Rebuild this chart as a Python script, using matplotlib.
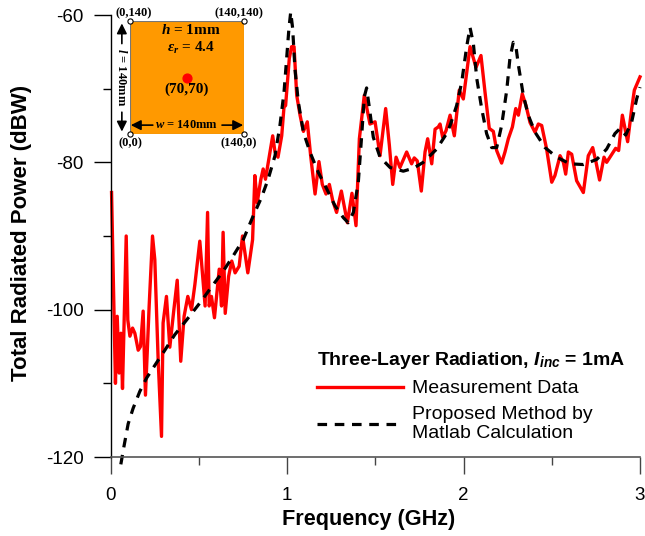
import matplotlib
matplotlib.use('Agg')
import matplotlib.pyplot as plt
from matplotlib.patches import Rectangle

plt.rcParams['font.family'] = ['Liberation Sans', 'DejaVu Sans']
plt.rcParams['axes.unicode_minus'] = False
plt.rcParams['mathtext.fontset'] = 'custom'
plt.rcParams['mathtext.rm'] = 'Liberation Sans:bold'
plt.rcParams['mathtext.bf'] = 'Liberation Sans:bold'
plt.rcParams['mathtext.bfit'] = 'Liberation Sans:italic:bold'
plt.rcParams['mathtext.it'] = 'Liberation Serif:italic:bold'

meas_freq = [.006, .028, .038, .049, .059, .068, .089, .098, .11, .125, .138, .157, .17, .185, .198,
             .219, .238, .251, .27, .289, .298, .317, .336, .359, .378, .398, .417, .438, .459, .478,
             .506, .536, .55, .559, .572, .589, .616, .629, .638, .65, .669, .687, .706, .729, .748,
             .778, .805, .818, .831, .852, .865, .878, .904, .919, .932, .949, .97, .983, .992, 1.013,
             1.026, 1.04, 1.055, 1.074, 1.093, 1.115, 1.134, 1.159, 1.181, 1.2, 1.221, 1.24, 1.259, 1.281, 1.308,
             1.342, 1.368, 1.391, 1.41, 1.438, 1.47, 1.499, 1.527, 1.559, 1.58, 1.599, 1.618, 1.64, 1.678,
             1.706, 1.721, 1.738, 1.761, 1.782, 1.797, 1.82, 1.839, 1.857, 1.867, 1.882, 1.901, 1.924, 1.948, 1.976,
             1.999, 2.037, 2.071, 2.099, 2.122, 2.146, 2.169, 2.188, 2.216, 2.235, 2.254, 2.277, 2.296, 2.311, 2.333,
             2.354, 2.377, 2.405, 2.424, 2.443, 2.471, 2.5, 2.518, 2.547, 2.566, 2.579, 2.594, 2.613, 2.641, 2.679,
             2.707, 2.732, 2.751, 2.771, 2.796, 2.811, 2.849, 2.862, 2.879, 2.9, 2.93, 2.953, 2.968, 3.0]
meas_db = [-84.1, -110, -100.9, -108.6, -103.2, -110.7, -90, -101.4, -103.6, -102.5, -103.2, -105.5, -105, -100.2, -111.6,
           -99.5, -90, -93.2, -106.8, -117.2, -101.8, -98.2, -105.1, -100, -96, -107, -100.9, -98.2, -100, -96.6,
           -90.7, -99.5, -86.8, -99.5, -98.2, -101.1, -94.5, -99.5, -89.5, -100.5, -95.5, -93.4, -95, -94.1, -90,
           -95, -90.5, -81.8, -85.5, -82.3, -80.9, -82.3, -78.6, -76.4, -78.6, -79.3, -76.4, -72.5, -72.3, -65.9,
           -64.3, -64.3, -70.9, -73.6, -75.8, -74.5, -79.1, -84.3, -79.9, -83, -84.3, -83, -85.2, -86.8, -83.9,
           -88.2, -84.2, -88.6, -76.8, -70.9, -74.8, -74.5, -79.1, -72.7, -77.7, -83, -79.3, -80.7, -78.6,
           -80.2, -79.4, -79.8, -83.9, -78.6, -76.8, -80.2, -75.5, -75.2, -74.8, -76.6, -75.7, -73.6, -76.4, -70.2,
           -71.4, -64.3, -67.1, -65.5, -70.5, -75.4, -75.8, -78.4, -80.1, -78.6, -76.8, -75.2, -72.7, -73.6, -70.7,
           -72.3, -74.6, -75.9, -74.8, -75, -78.2, -82.7, -81.8, -79.1, -80, -81.6, -78.6, -78.9, -82.5, -84.1,
           -79.1, -78, -80, -82.4, -79.3, -80, -78.6, -78.1, -78.4, -73.6, -77.2, -72.7, -70.2, -68.4]

# calculated curve
calc_freq = [.0585, .076, .1, .128, .166, .204, .261, .308, .364, .431, .506, .582, .638, .695, .752,
             .808, .855, .893, .932, .96, .983, .998, 1.011, 1.021, 1.032, 1.045, 1.064, 1.093, 1.13, 1.178,
             1.225, 1.272, 1.319, 1.347, 1.376, 1.404, 1.423, 1.438, 1.451, 1.465, 1.489, 1.527, 1.584, 1.659, 1.716,
             1.772, 1.848, 1.904, 1.924, 1.961, 1.99, 2.018, 2.037, 2.056, 2.075, 2.103, 2.131, 2.16, 2.188, 2.216,
             2.245, 2.263, 2.282, 2.296, 2.311, 2.339, 2.367, 2.405, 2.462, 2.528, 2.603, 2.679, 2.755, 2.811, 2.858,
             2.887, 2.919, 2.953, 2.981, 3.0]
calc_db = [-121, -118.6, -115.5, -113.4, -111.1, -109.3, -107.2, -105.5, -103.4, -101.4, -99.1, -96.6, -94.8, -92.7, -90.5,
           -87.3, -84.8, -82.3, -79.1, -75, -70.5, -65.9, -61.8, -59.6, -61.8, -67.3, -71.8, -75.9, -78.6, -81.4,
           -83.6, -85.9, -87.5, -88.2, -86.8, -82.7, -76.4, -71.1, -69.9, -72.3, -76.6, -79.3, -80.7, -81.2, -80.8,
           -80, -78.2, -76.1, -75, -72.3, -69.1, -64.3, -61.7, -63.9, -68.6, -72.7, -76.1, -78, -78, -75,
           -70.2, -65.9, -63.7, -64.1, -66.8, -70.9, -73.6, -75.9, -78, -79.3, -80.2, -80.3, -79.6, -78.2, -76.1,
           -75.4, -76.3, -74.5, -71.4, -69.8]

x_ticks = [0, 1, 2, 3]
y_ticks = [-120, -100, -80, -60]
corners = [(0, 0), (140, 0), (0, 140), (140, 140)]
corner_labels = ['(0,0)', '(140,0)', '(0,140)', '(140,140)']
feed = (70, 70)

W, H = 645, 536
fig = plt.figure(figsize=(W / 100, H / 100), dpi=100)
ax = fig.add_axes([110.5 / W, 1 - 457 / H, 529.5 / W, 442 / H])

ax.plot(meas_freq, meas_db, color='#ff0000', lw=2.4, solid_joinstyle='round', label='Measurement Data', clip_on=False)
ax.plot(calc_freq, calc_db, color='black', lw=2.3, dashes=(3.0, 2.4), label='Proposed Method by\nMatlab Calculation',
        clip_on=False)

ax.set_xlim(0, 3)
ax.set_ylim(-120, -60)
ax.set_xticks(x_ticks)
ax.set_xticks([.5, 1.5, 2.5], minor=True)
ax.set_yticks(y_ticks)
ax.set_yticks([-110, -90, -70], minor=True)
ax.tick_params(which='major', length=12.3, width=1.0, labelsize=13.5)
ax.tick_params(which='minor', length=6, width=1.0)
ax.tick_params(axis='x', which='major', pad=9)
ax.tick_params(axis='y', which='major', pad=7)
ax.tick_params(axis='x', which='both', color='#444444')
ax.spines['top'].set_visible(False)
ax.spines['right'].set_visible(False)
ax.spines['left'].set_linewidth(1.0)
ax.spines['bottom'].set_linewidth(1.2)
ax.spines['bottom'].set_color('#555555')
ax.set_xlabel('Frequency (GHz)', fontsize=15.6, fontweight='bold')
ax.set_ylabel('Total Radiated Power (dBW)', fontsize=16, fontweight='bold')
ax.xaxis.set_label_coords(.488, -.118)
ax.yaxis.set_label_coords(-.149, .508)

leg = ax.legend(loc='lower left', bbox_to_anchor=(.39, .035), frameon=False, fontsize=14,
                handlelength=4.4, handletextpad=.5, labelspacing=.45, alignment='left',
                borderpad=0, borderaxespad=0,
                title=r'Three-Layer Radiation, $\mathbfit{I}_{\mathbfit{inc}}$ = 1mA',
                title_fontproperties={'size': 14, 'weight': 'bold'})
for t in leg.get_texts():
    t.set_linespacing(1.1)

# inset sketch of the board
inset = fig.add_axes([130 / W, 1 - 134 / H, 114 / W, 113 / H])
inset.set_xlim(0, 140)
inset.set_ylim(0, 140)
inset.axis('off')
inset.add_patch(Rectangle((0, 0), 140, 140, facecolor='#ff9900', edgecolor='#777777', lw=0.8))
inset.scatter([c[0] for c in corners], [c[1] for c in corners], s=14, facecolor='white',
              edgecolor='black', lw=0.8, zorder=3, clip_on=False)
inset.scatter([feed[0]], [feed[1]], s=40, color='#ff0000', zorder=3)

serif = {'family': 'Liberation Serif', 'weight': 'bold', 'ha': 'center', 'va': 'center', 'clip_on': False}
inset.text(0, -11, corner_labels[0], fontsize=9, **serif)
inset.text(134, -11, corner_labels[1], fontsize=9, **serif)
inset.text(5, 150, corner_labels[2], fontsize=9, **serif)
inset.text(134, 150, corner_labels[3], fontsize=9, **serif)
inset.text(75, 129, '$h$ = 1mm', fontsize=11, **serif)
inset.text(75, 106, r'$\varepsilon_r$ = 4.4', fontsize=11, **serif)
inset.text(70, 55, '(70,70)', fontsize=11, **serif)
inset.text(70, 11, '$w$ = 140mm', fontsize=9, **serif)
inset.text(-10, 70, '$l$ = 140mm', fontsize=9, rotation=-90, **serif)

arrow = dict(arrowstyle='-|>', color='black', lw=1.2, mutation_scale=15, shrinkA=0, shrinkB=0)
inset.annotate('', xy=(1, 11), xytext=(28, 11), arrowprops=arrow)
inset.annotate('', xy=(139, 11), xytext=(113, 11), arrowprops=arrow)
inset.annotate('', xy=(-10, 137), xytext=(-10, 112), arrowprops=arrow, annotation_clip=False)
inset.annotate('', xy=(-10, 3), xytext=(-10, 27), arrowprops=arrow, annotation_clip=False)

fig.savefig('out.png', dpi=100)
